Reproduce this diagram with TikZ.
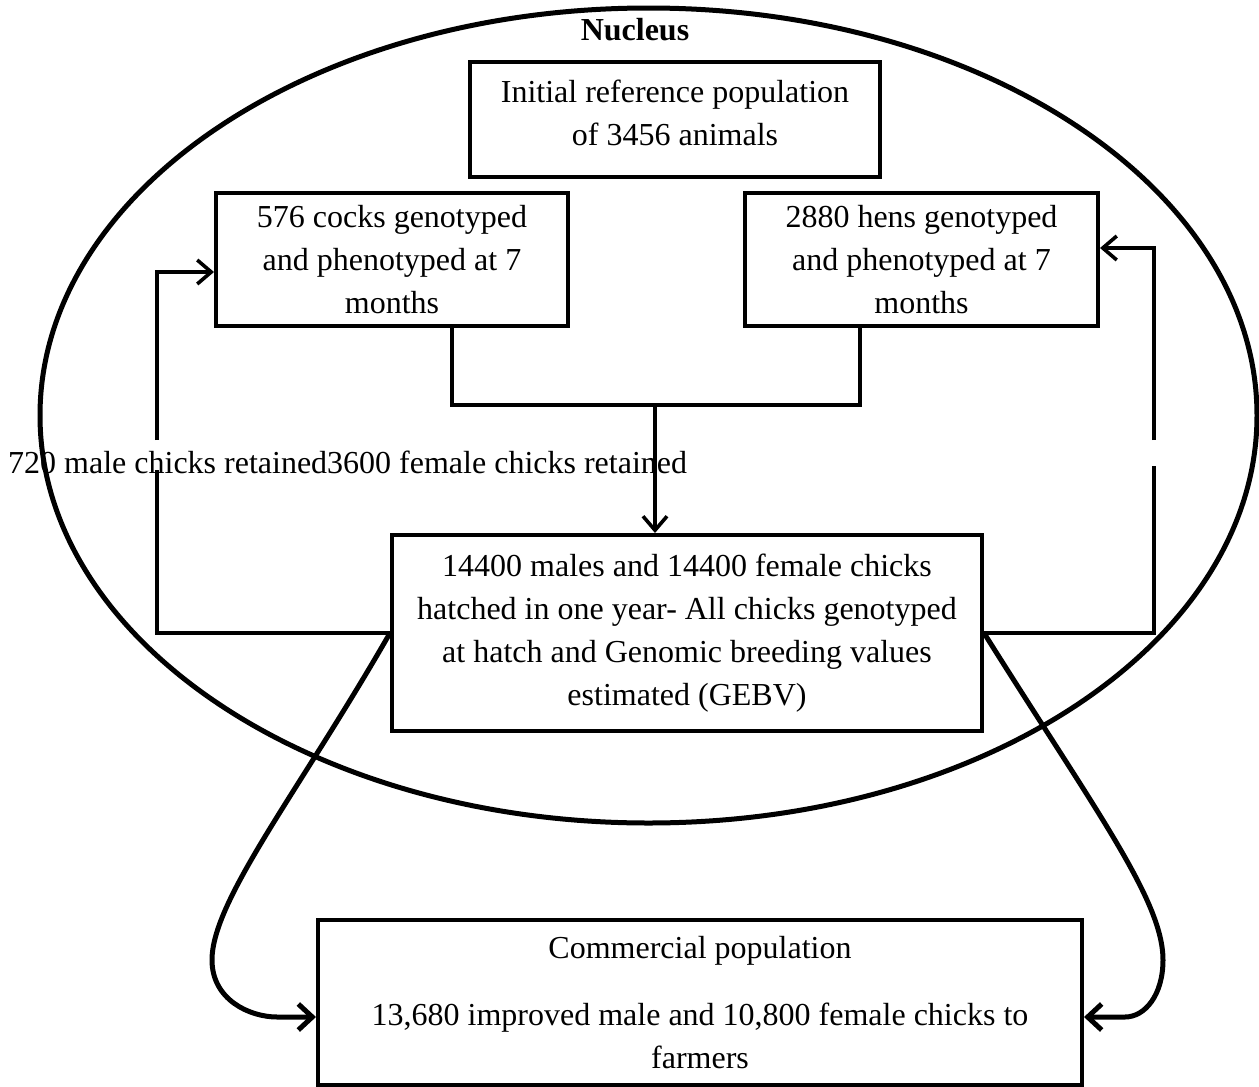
\documentclass[tikz,border=0pt]{standalone}
\usepackage{fontspec}
\setmainfont{Liberation Serif}
\usetikzlibrary{arrows.meta,shapes.geometric}
\begin{document}
\begin{tikzpicture}[x=1pt,y=-1pt,
  every node/.style={font=\fontsize{32}{43}\selectfont},
  box/.style={draw, line width=4pt, align=center, inner sep=0pt},
  conn/.style={line width=3.6pt},
  arr/.style={line width=3.6pt, -{Straight Barb[length=14pt,width=24pt]}},
  bigarr/.style={line width=5pt, -{Straight Barb[length=14pt,width=26pt]}}]
\useasboundingbox (0,0) rectangle (1259,1087);
% nucleus ellipse
\node[draw, ellipse, line width=5pt, minimum width=1217pt, minimum height=815pt, inner sep=0pt] (nuc) at (648.5,415.5) {};
\node[font=\fontsize{32}{43}\selectfont\bfseries] (nuclab) at (635,30) {Nucleus};
% boxes
\node[box, minimum width=410pt, minimum height=115pt, text depth=14pt] (init) at (675,119.5)
  {Initial reference population\\of 3456 animals};
\node[box, minimum width=352pt, minimum height=133pt] (cocks) at (392,259.5)
  {576 cocks genotyped\\and phenotyped at 7\\months};
\node[box, minimum width=353pt, minimum height=133pt] (hens) at (921.5,259.5)
  {2880 hens genotyped\\and phenotyped at 7\\months};
\node[box, minimum width=590pt, minimum height=196pt] (mid) at (687,633)
  {14400 males and 14400 female chicks\\hatched in one year- All chicks genotyped\\at hatch and Genomic breeding values\\estimated (GEBV)};
\node[box, minimum width=764pt, minimum height=165pt] (comm) at (700,1002.5)
  {Commercial population\\[24pt]13,680 improved male and 10,800 female chicks to\\farmers};
% label
\node[anchor=west, inner sep=0pt] (lab) at (8,462) {720 male chicks retained3600 female chicks retained};
% merge connectors
\coordinate (cj) at (452,405);
\coordinate (hj) at (860,405);
\coordinate (mj) at (655,405);
\draw[conn] (cocks.south -| cj) -- (cj) -- (hj) -- (hens.south -| hj);
\draw[arr] (mj) -- (mid.north -| mj);
% left loop
\coordinate (lb) at (157,633);
\coordinate (lg1) at (157,470);
\coordinate (lg2) at (157,440);
\coordinate (lt) at (157,272);
\draw[conn] (mid.west) -- (lb) -- (lg1);
\draw[arr] (lg2) -- (lt) -- ([yshift=-12.5pt]cocks.west);
% right loop
\coordinate (rb) at (1154,633);
\coordinate (rg1) at (1154,466);
\coordinate (rg2) at (1154,440);
\coordinate (rt) at (1154,248);
\draw[conn] (mid.east) -- (rb) -- (rg1);
\draw[arr] (rg2) -- (rt) -- ([yshift=11.5pt]hens.east);
% curves to commercial
\coordinate (lc) at (212,960);
\coordinate (lh) at (277,1017);
\draw[bigarr] (mid.west) .. controls (300,790) and (212,900) .. (lc)
  .. controls (212,1000) and (250,1017) .. (lh) -- (comm.west |- lh);
\coordinate (rc) at (1163,960);
\coordinate (rh) at (1125,1017);
\draw[bigarr] (mid.east) .. controls (1095,810) and (1163,900) .. (rc)
  .. controls (1163,995) and (1145,1017) .. (rh) -- (comm.east |- rh);
\end{tikzpicture}
\end{document}
